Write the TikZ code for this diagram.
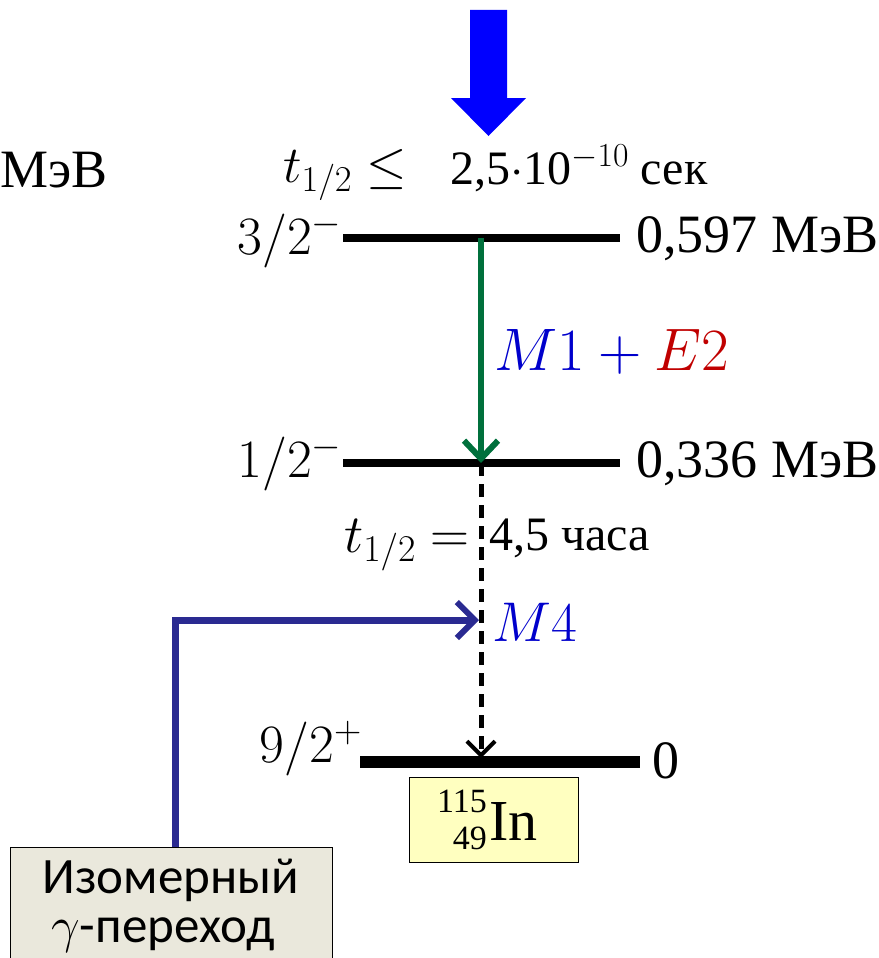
\documentclass[tikz,border=0pt]{standalone}
\usepackage{fix-cm}
\usepackage{fontspec}
\setmainfont{Liberation Serif}
\newfontfamily\sansf{Carlito}
\usetikzlibrary{arrows.meta}
\definecolor{grn}{RGB}{0,112,60}
\definecolor{navyc}{RGB}{42,42,145}
\definecolor{dred}{RGB}{192,0,0}
\definecolor{mblue}{RGB}{0,0,204}
\definecolor{yel}{RGB}{255,255,192}
\definecolor{beige}{RGB}{234,232,220}
\begin{document}
\begin{tikzpicture}[x=1pt,y=-1pt,
  big/.style={font=\fontsize{54}{60}\selectfont, inner sep=0pt},
  mid/.style={font=\fontsize{48}{52}\selectfont, inner sep=0pt},
  level/.style={line width=8pt, black},
]
\useasboundingbox (0,0) rectangle (878,958);

% big incoming arrow
\fill[blue] (470,10) -- (507,10) -- (507,98) -- (526,98) -- (488.5,136) -- (451,98) -- (470,98) -- cycle;

% levels
\coordinate (l1a) at (343,238); \coordinate (l1b) at (620,238);
\coordinate (l2a) at (343,463); \coordinate (l2b) at (620,463);
\coordinate (l3a) at (360,762); \coordinate (l3b) at (640,762);
\coordinate (t1) at (481,238); \coordinate (t2) at (481,463); \coordinate (t3) at (481,758);
\draw[level] (l1a) -- (l1b);
\draw[level] (l2a) -- (l2b);
\draw[line width=12pt] (l3a) -- (l3b);

% labels
\node[big, anchor=west] (mev) at (0,170) {МэВ};
\node[anchor=base west, inner sep=0pt, font=\fontsize{52}{56}\selectfont] (th1) at (283,182) {$t_{1/2}\leq$};
\node[mid, anchor=base west] (th1b) at (450,184) {2,5$\cdot$10$^{-10}$ сек};
\node[big, anchor=base east] (j1) at (342,254) {$3/2^{-}$};
\node[big, anchor=base west] (e1) at (636,252) {0,597 МэВ};
\node[big, anchor=base east] (j2) at (342,477) {$1/2^{-}$};
\node[big, anchor=base west] (e2) at (636,477) {0,336 МэВ};
\node[big, anchor=base east] (j3) at (362,762) {$9/2^{+}$};
\node[big, anchor=base west] (e3) at (652,778) {0};

% transitions
\draw[grn, line width=6pt, -{Straight Barb[length=18pt,width=34pt,line width=6pt]}] (t1) -- (t2);
\node[anchor=west, inner sep=0pt, font=\fontsize{60}{66}\selectfont] (mult) at (494,352) {$\color{mblue}M1+\color{dred}E2$};
\draw[black, line width=5pt, dash pattern=on 13pt off 8pt, -{Straight Barb[length=14pt,width=28pt,line width=4pt]}] (t2) -- (t3);
\node[big, anchor=base east] (th2) at (470,552) {$t_{1/2}=$};
\node[mid, anchor=base west] (th2b) at (489,550) {4,5 часа};
\node[anchor=west, inner sep=0pt, font=\fontsize{56}{64}\selectfont, text=mblue] (m4) at (492,622) {$M4$};

% boxes
\node[draw=black, line width=1pt, fill=yel, minimum width=169pt, minimum height=85pt, inner sep=0pt] (in) at (493.5,819.5) {};
\node[anchor=base east, inner sep=0pt, font=\fontsize{34}{36}\selectfont] (ia) at (487,812) {115};
\node[anchor=base east, inner sep=0pt, font=\fontsize{34}{36}\selectfont] (iz) at (487,849) {49};
\node[anchor=base west, inner sep=0pt, font=\fontsize{58}{62}\selectfont] (isym) at (489,840) {In};
\node[draw=black, line width=1pt, fill=beige, minimum width=322pt, minimum height=130pt, anchor=north,
      inner sep=0pt] (iso) at (171,847) {};
\node[anchor=base, inner sep=0pt, font=\sansf\fontsize{51}{52}\selectfont] (iso1) at (171,893) {Изомерный};
\node[anchor=base, inner sep=0pt, font=\sansf\fontsize{51}{52}\selectfont] (iso2) at (163,942) {$\gamma$-переход};

% navy connector
\coordinate (bend) at (175,620);
\coordinate (m4tip) at (479,620);
\draw[navyc, line width=7pt, -{Straight Barb[length=18pt,width=36pt,line width=6pt]}] (iso.north -| bend) -- (bend) -- (m4tip);
\end{tikzpicture}
\end{document}
